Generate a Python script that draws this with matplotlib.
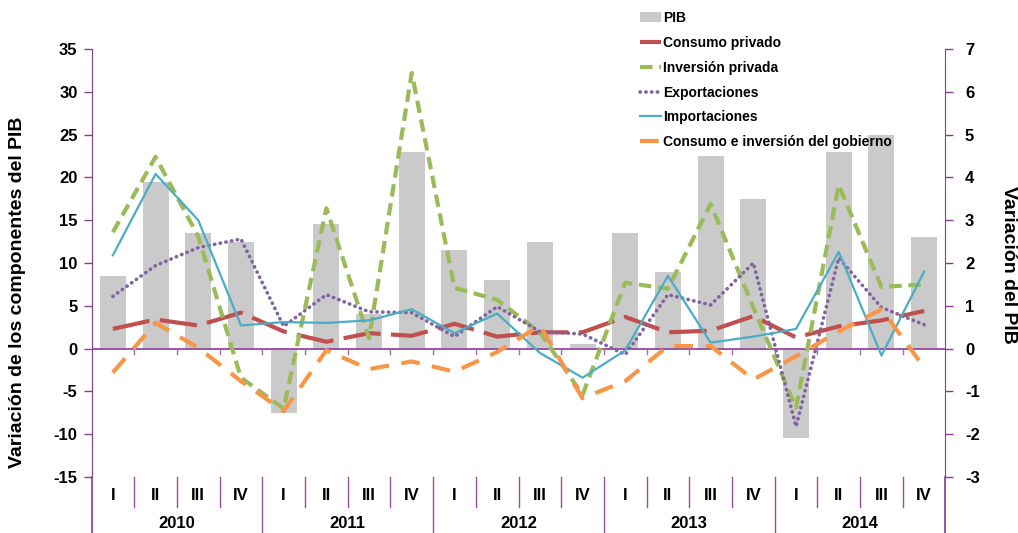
import matplotlib
matplotlib.use("Agg")
import matplotlib.pyplot as plt
import numpy as np
from matplotlib.lines import Line2D
from matplotlib.patches import Patch

quarters = ["I", "II", "III", "IV"] * 5
years = ["2010", "2011", "2012", "2013", "2014"]

pib = [1.7, 3.9, 2.7, 2.5, -1.5, 2.9, 0.8, 4.6, 2.3, 1.6,
       2.5, 0.1, 2.7, 1.8, 4.5, 3.5, -2.1, 4.6, 5.0, 2.6]
consumo_privado = [2.3, 3.4, 2.7, 4.2, 2.0, 0.8, 1.8, 1.5, 2.9, 1.4,
                   1.9, 1.9, 3.7, 1.9, 2.1, 3.8, 1.3, 2.6, 3.3, 4.4]
inversion_privada = [13.6, 22.4, 13.1, -3.4, -7.0, 16.4, 1.2, 32.2, 7.1, 5.7,
                     1.9, -5.4, 7.7, 7.0, 16.9, 4.8, -6.9, 19.1, 7.2, 7.5]
exportaciones = [6.1, 9.7, 11.8, 12.8, 2.6, 6.3, 4.3, 4.2, 1.4, 4.9,
                 2.0, 1.7, -0.7, 6.3, 5.1, 10.0, -9.1, 10.6, 4.8, 2.8]
importaciones = [10.9, 20.4, 15.0, 2.7, 3.1, 3.0, 3.3, 4.6, 1.8, 4.1,
                 -0.5, -3.4, -0.2, 8.5, 0.7, 1.4, 2.3, 11.3, -0.8, 9.0]
gobierno = [-2.8, 3.0, 0.1, -3.8, -7.3, -0.2, -2.4, -1.5, -2.7, -0.4,
            2.7, -5.8, -3.8, 0.3, 0.3, -3.6, -0.9, 2.0, 4.6, -2.2]

plt.rcParams["font.family"] = ["Liberation Sans", "DejaVu Sans"]
plt.rcParams["font.weight"] = "bold"
plt.rcParams["axes.unicode_minus"] = False

AXC = "#8B3A96"
x = np.arange(len(quarters))

fig = plt.figure(figsize=(10.18, 5.33), dpi=100)
W, H = 1018, 533
x0, x1, ytop, ybot = 91.5, 945.5, 49, 477
ax = fig.add_axes([x0 / W, 1 - ybot / H, (x1 - x0) / W, (ybot - ytop) / H])
ax2 = ax.twinx()

# PIB bars on the right axis
ax2.bar(x, pib, width=0.61, color="#CACACA", zorder=1)
ax2.set_ylim(-3, 7)
ax2.set_yticks(range(-3, 8))

ax.set_zorder(ax2.get_zorder() + 1)
ax.patch.set_visible(False)

ax.plot(x, consumo_privado, color="#C0504D", lw=3, dashes=(9, 2.5), label="Consumo privado")
ax.plot(x, inversion_privada, color="#9BBB59", lw=3, dashes=(3, 1.6), label="Inversión privada")
ax.plot(x, exportaciones, color="#8064A2", lw=2.6, dashes=(0.1, 1.5),
        solid_capstyle="round", dash_capstyle="round", label="Exportaciones")
ax.plot(x, importaciones, color="#4BACC6", lw=1.6, label="Importaciones")
ax.plot(x, gobierno, color="#F79646", lw=3, dashes=(4.5, 3), label="Consumo e inversión del gobierno")

ax.set_xlim(-0.5, len(x) - 0.5)
ax.set_ylim(-15, 35)
ax.set_yticks(range(-15, 36, 5))

# zero line with small boundary ticks
ax.axhline(0, color=AXC, lw=1.2, zorder=0)
for b in np.arange(0.5, len(x) - 1, 1.0):
    ax.plot([b, b], [0, -0.6], color="#A868B0", lw=1, zorder=0)

for a in (ax, ax2):
    a.spines["top"].set_visible(False)
    a.spines["bottom"].set_visible(False)
    a.set_xticks([])
    a.tick_params(axis="y", colors=AXC, length=6, width=1, labelsize=12)
    for t in a.get_yticklabels():
        t.set_color("black")
        t.set_fontweight("bold")
ax.spines["left"].set_color(AXC)
ax.spines["right"].set_visible(False)
ax2.spines["right"].set_color(AXC)
ax2.spines["left"].set_visible(False)
ax.tick_params(axis="y", pad=4)
ax2.tick_params(axis="y", pad=8)

# category axis below the plot
extra = (H - ybot) / (ybot - ytop)
qline = 30 / (ybot - ytop)
tr = ax.get_xaxis_transform()
for xs in (-0.5, len(x) - 0.5):
    ax.add_line(Line2D([xs, xs], [0, -extra], transform=tr, color=AXC, lw=1.2, clip_on=False))
for i in range(1, len(x)):
    b = i - 0.5
    depth = extra if i % 4 == 0 else qline
    ax.add_line(Line2D([b, b], [0, -depth], transform=tr, color="#9A4FA4", lw=1, clip_on=False))
for i, q in enumerate(quarters):
    ax.text(i, -(495 - ybot) / (ybot - ytop), q, transform=tr, ha="center", va="center",
            fontsize=12, fontweight="bold", clip_on=False)
for j, yr in enumerate(years):
    ax.text(4 * j + 1.5, -(523 - ybot) / (ybot - ytop), yr, transform=tr, ha="center",
            va="center", fontsize=12, fontweight="bold", clip_on=False)

fig.text(18 / W, 1 - 292 / H, "Variación de los componentes del PIB", rotation=90,
         ha="center", va="center", fontsize=14, fontweight="bold")
fig.text(1008 / W, 1 - 265 / H, "Variación del PIB", rotation=-90,
         ha="center", va="center", fontsize=14, fontweight="bold")

handles = [Patch(facecolor="#CACACA", label="PIB")] + ax.get_lines()[:5]
leg = fig.legend(handles=handles, loc="upper left", bbox_to_anchor=(640 / W, 1 - 11 / H),
                 frameon=False, fontsize=10, handlelength=1.5, handletextpad=0.15,
                 labelspacing=0.78, borderpad=0, borderaxespad=0)
for t in leg.get_texts():
    t.set_fontweight("bold")

fig.savefig("out.png", dpi=100)
